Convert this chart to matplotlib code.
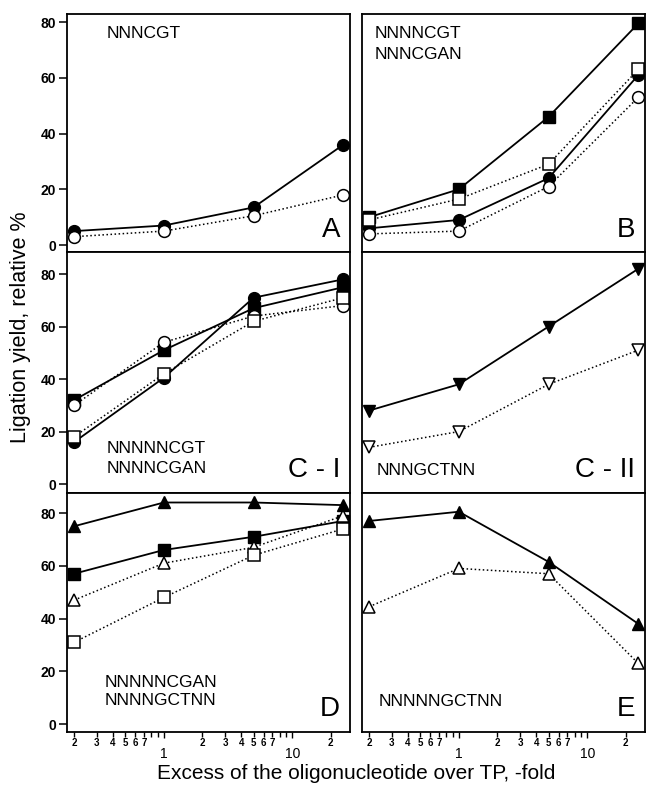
import matplotlib.pyplot as plt
import numpy as np

plt.rcParams['font.family'] = ['Liberation Sans', 'DejaVu Sans']

# excess of oligonucleotide over TP (fold)
x = [0.2, 1, 5, 25]

# panel A
a_filled_circ = [5, 7, 13.5, 36]
a_open_circ = [3, 5, 10.5, 18]
# panel B
b_filled_sq = [10, 20, 46, 79.5]
b_open_sq = [9, 16.5, 29, 63]
b_filled_circ = [6, 9, 24, 61]
b_open_circ = [4, 5, 21, 53]
# panel C-I
c1_filled_circ = [16, 40.5, 71, 78]
c1_filled_sq = [32, 51, 67, 75]
c1_open_circ = [30, 54, 64, 68]
c1_open_sq = [18, 42, 62, 71]
# panel C-II
c2_filled_tri = [28, 38, 60, 82]
c2_open_tri = [14, 20, 38, 51]
# panel D
d_filled_tri = [75, 84, 84, 83]
d_filled_sq = [57, 66, 71, 77]
d_open_tri = [47, 61, 67, 79]
d_open_sq = [31, 48, 64, 74]
# panel E
e_filled_tri = [77, 80.5, 61.5, 38]
e_open_tri = [44.5, 59, 57, 23]

fig = plt.figure(figsize=(6.46, 7.85), dpi=100)

xl0, xr0, w = 67 / 646, 362 / 646, 283 / 646
rows = [(1 - 252 / 785, 238 / 785, (-2.5, 82.9)),
        (1 - 493 / 785, 241 / 785, (-3.4, 88.4)),
        (1 - 732 / 785, 239 / 785, (-3.0, 87.6))]

axs = []
for r, (y0, h, yl) in enumerate(rows):
    pair = []
    for c, x0 in enumerate([xl0, xr0]):
        ax = fig.add_axes([x0, y0, w, h])
        ax.set_xscale('log')
        ax.set_xlim(0.176, 28.2)
        ax.set_ylim(*yl)
        for s in ax.spines.values():
            s.set_linewidth(1.3)
        if c == 0:
            ax.set_yticks([0, 20, 40, 60, 80])
            ax.tick_params(axis='y', direction='out', length=6, width=1.1,
                           labelsize=10, pad=2)
            for t in ax.get_yticklabels():
                t.set_fontweight('bold')
        else:
            ax.set_yticks([])
        if r == 2:
            ax.set_xticks([1, 10])
            ax.set_xticklabels(['1', '10'], fontsize=10)
            minor = [0.2, 0.3, 0.4, 0.5, 0.6, 0.7, 0.8, 0.9,
                     2, 3, 4, 5, 6, 7, 8, 9, 20]
            mlab = ['2', '3', '4', '5', '6', '7', '', '',
                    '2', '3', '4', '5', '6', '7', '', '', '2']
            ax.set_xticks(minor, minor=True)
            ax.set_xticklabels(mlab, minor=True, fontsize=7, fontweight='bold')
            ax.tick_params(axis='x', which='major', direction='out', length=4,
                           width=1, pad=7)
            ax.tick_params(axis='x', which='minor', direction='out', length=3.5,
                           width=1, pad=1)
        else:
            ax.set_xticks([])
            ax.set_xticks([], minor=True)
        pair.append(ax)
    axs.append(pair)


def filled(ax, y, m, ms=8.5):
    ax.plot(x, y, '-', color='black', lw=1.3, marker=m, ms=ms,
            mfc='black', mec='black', zorder=3)


def hollow(ax, y, m, ms=8.5):
    ax.plot(x, y, ':', color='black', lw=1.1, marker=m, ms=ms,
            mfc='white', mec='black', mew=1.1, zorder=4)


ax = axs[0][0]
hollow(ax, a_open_circ, 'o')
filled(ax, a_filled_circ, 'o')

ax = axs[0][1]
hollow(ax, b_open_circ, 'o')
filled(ax, b_filled_circ, 'o')
hollow(ax, b_open_sq, 's', 8)
filled(ax, b_filled_sq, 's', 8)

ax = axs[1][0]
filled(ax, c1_filled_circ, 'o')
filled(ax, c1_filled_sq, 's', 8)
hollow(ax, c1_open_circ, 'o')
hollow(ax, c1_open_sq, 's', 8)

ax = axs[1][1]
filled(ax, c2_filled_tri, 'v')
hollow(ax, c2_open_tri, 'v')

ax = axs[2][0]
filled(ax, d_filled_tri, '^')
filled(ax, d_filled_sq, 's', 8)
hollow(ax, d_open_tri, '^')
hollow(ax, d_open_sq, 's', 8)

ax = axs[2][1]
filled(ax, e_filled_tri, '^')
hollow(ax, e_open_tri, '^')

seq_fs = 12.5
letter_fs = 20
axs[0][0].text(0.141, 0.95, 'NNNCGT', transform=axs[0][0].transAxes,
               fontsize=seq_fs, va='top')
axs[0][1].text(0.046, 0.95, 'NNNNCGT', transform=axs[0][1].transAxes,
               fontsize=seq_fs, va='top')
axs[0][1].text(0.046, 0.862, 'NNNCGAN', transform=axs[0][1].transAxes,
               fontsize=seq_fs, va='top')
axs[1][0].text(0.141, 0.167, 'NNNNNCGT', transform=axs[1][0].transAxes,
               fontsize=seq_fs, va='baseline')
axs[1][0].text(0.141, 0.083, 'NNNNCGAN', transform=axs[1][0].transAxes,
               fontsize=seq_fs, va='baseline')
axs[1][1].text(0.053, 0.075, 'NNNGCTNN', transform=axs[1][1].transAxes,
               fontsize=seq_fs, va='baseline')
axs[2][0].text(0.134, 0.1875, 'NNNNNCGAN', transform=axs[2][0].transAxes,
               fontsize=seq_fs, va='baseline')
axs[2][0].text(0.134, 0.1125, 'NNNNGCTNN', transform=axs[2][0].transAxes,
               fontsize=seq_fs, va='baseline')
axs[2][1].text(0.057, 0.108, 'NNNNNGCTNN', transform=axs[2][1].transAxes,
               fontsize=seq_fs, va='baseline')

letters = [['A', 'B'], ['C - I', 'C - II'], ['D', 'E']]
for r in range(3):
    for c in range(2):
        axs[r][c].text(0.965, 0.065, letters[r][c], transform=axs[r][c].transAxes,
                       fontsize=letter_fs, ha='right', va='baseline')

fig.text(0.031, 1 - 327 / 785, 'Ligation yield, relative %', rotation=90,
         fontsize=15.5, ha='center', va='center')
fig.text(0.551, 0.003, 'Excess of the oligonucleotide over TP, -fold',
         fontsize=15, ha='center', va='bottom')

fig.savefig('out.png', dpi=100)
